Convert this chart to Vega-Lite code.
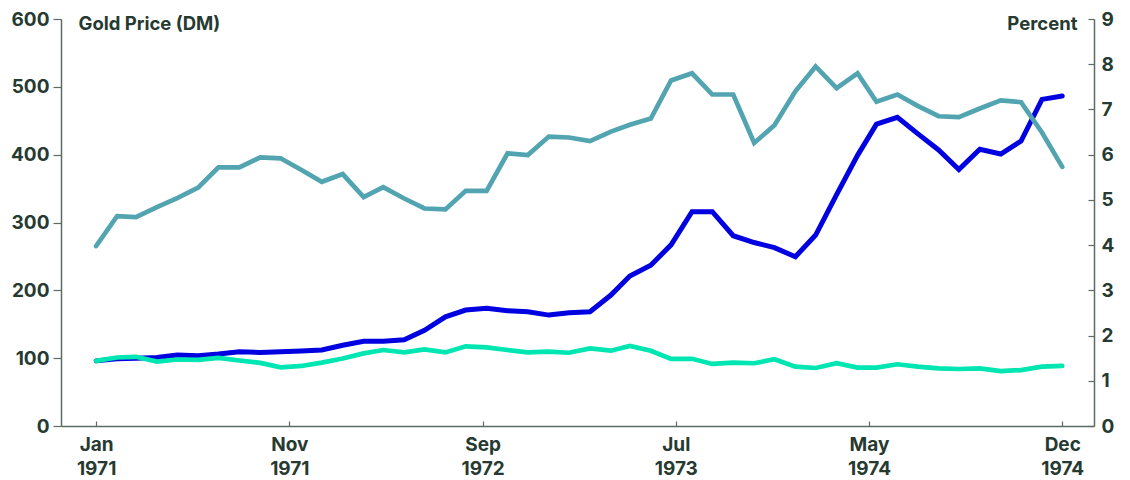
{
  "$schema": "https://vega.github.io/schema/vega-lite/v6.json",
  "width": 1033,
  "height": 407,
  "autosize": {"type": "none"},
  "padding": {"left": 61, "top": 19, "right": 36, "bottom": 54},
  "background": "white",
  "config": {
    "view": {"stroke": null},
    "font": "Inter",
    "axis": {
      "labelFont": "Inter",
      "labelFontWeight": 700,
      "labelFontSize": 19,
      "labelColor": "#263a31",
      "titleFont": "Inter",
      "titleFontWeight": 700,
      "titleFontSize": 18.5,
      "titleColor": "#263a31",
      "domainColor": "#5e6b65",
      "domainWidth": 1.5,
      "tickColor": "#5e6b65",
      "tickWidth": 1.2,
      "grid": false
    }
  },
  "data": {
    "values": [
      {"date": "1971-01-01", "gold": 96, "percent": 3.98, "other": 96},
      {"date": "1971-02-01", "gold": 99, "percent": 4.64, "other": 101},
      {"date": "1971-03-01", "gold": 100, "percent": 4.62, "other": 102},
      {"date": "1971-04-01", "gold": 101, "percent": 4.84, "other": 95},
      {"date": "1971-05-01", "gold": 104.5, "percent": 5.04, "other": 98},
      {"date": "1971-06-01", "gold": 103.5, "percent": 5.27, "other": 97.5},
      {"date": "1971-07-01", "gold": 106, "percent": 5.72, "other": 100.5},
      {"date": "1971-08-01", "gold": 109.5, "percent": 5.72, "other": 96.5},
      {"date": "1971-09-01", "gold": 108.5, "percent": 5.94, "other": 93},
      {"date": "1971-10-01", "gold": 109.5, "percent": 5.92, "other": 86.5},
      {"date": "1971-11-01", "gold": 110.5, "percent": 5.66, "other": 88.5},
      {"date": "1971-12-01", "gold": 112, "percent": 5.40, "other": 93.5},
      {"date": "1972-01-01", "gold": 119, "percent": 5.57, "other": 99.5},
      {"date": "1972-02-01", "gold": 125, "percent": 5.06, "other": 107},
      {"date": "1972-03-01", "gold": 125, "percent": 5.28, "other": 112},
      {"date": "1972-04-01", "gold": 127, "percent": 5.03, "other": 108.5},
      {"date": "1972-05-01", "gold": 141, "percent": 4.81, "other": 113},
      {"date": "1972-06-01", "gold": 161, "percent": 4.79, "other": 108.5},
      {"date": "1972-07-01", "gold": 171, "percent": 5.20, "other": 117.5},
      {"date": "1972-08-01", "gold": 173.5, "percent": 5.20, "other": 116},
      {"date": "1972-09-01", "gold": 170, "percent": 6.03, "other": 112},
      {"date": "1972-10-01", "gold": 168.5, "percent": 5.99, "other": 108.5},
      {"date": "1972-11-01", "gold": 163.5, "percent": 6.40, "other": 109.5},
      {"date": "1972-12-01", "gold": 167, "percent": 6.38, "other": 108},
      {"date": "1973-01-01", "gold": 168.5, "percent": 6.30, "other": 114.5},
      {"date": "1973-02-01", "gold": 193, "percent": 6.51, "other": 111},
      {"date": "1973-03-01", "gold": 221, "percent": 6.66, "other": 118},
      {"date": "1973-04-01", "gold": 237, "percent": 6.80, "other": 111},
      {"date": "1973-05-01", "gold": 267, "percent": 7.64, "other": 99},
      {"date": "1973-06-01", "gold": 316, "percent": 7.80, "other": 99},
      {"date": "1973-07-01", "gold": 316, "percent": 7.33, "other": 91.5},
      {"date": "1973-08-01", "gold": 280.5, "percent": 7.33, "other": 93.5},
      {"date": "1973-09-01", "gold": 270.5, "percent": 6.26, "other": 92.5},
      {"date": "1973-10-01", "gold": 263, "percent": 6.65, "other": 98.5},
      {"date": "1973-11-01", "gold": 249.5, "percent": 7.40, "other": 87.5},
      {"date": "1973-12-01", "gold": 281.5, "percent": 7.95, "other": 85.5},
      {"date": "1974-01-01", "gold": 341, "percent": 7.47, "other": 92.5},
      {"date": "1974-02-01", "gold": 399, "percent": 7.80, "other": 86},
      {"date": "1974-03-01", "gold": 445, "percent": 7.17, "other": 86},
      {"date": "1974-04-01", "gold": 455, "percent": 7.33, "other": 91},
      {"date": "1974-05-01", "gold": 431, "percent": 7.08, "other": 87.5},
      {"date": "1974-06-01", "gold": 407, "percent": 6.85, "other": 85},
      {"date": "1974-07-01", "gold": 378, "percent": 6.83, "other": 84},
      {"date": "1974-08-01", "gold": 408, "percent": 7.02, "other": 85},
      {"date": "1974-09-01", "gold": 401, "percent": 7.20, "other": 81},
      {"date": "1974-10-01", "gold": 420, "percent": 7.16, "other": 82.5},
      {"date": "1974-11-01", "gold": 481.5, "percent": 6.49, "other": 87.5},
      {"date": "1974-12-01", "gold": 486.5, "percent": 5.73, "other": 88.5}
    ]
  },
  "encoding": {
    "x": {
      "field": "date",
      "type": "temporal",
      "scale": {"type": "utc", "domain": [27043200000, 159148800000]},
      "axis": {
        "values": [31536000000, 56246400000, 80956800000, 105667200000, 130377600000, 155088000000],
        "labelExpr": "[['Jan','1971'],['Nov','1971'],['Sep','1972'],['Jul','1973'],['May','1974'],['Dec','1974']][round(datum.index*5)]",
        "labelLineHeight": 24,
        "labelPadding": 14,
        "labelAlign": "center",
        "labelBaseline": "top",
        "tickSize": -5,
        "title": null
      }
    }
  },
  "layer": [
    {
      "mark": {"type": "line", "color": "#0000e0", "strokeWidth": 5, "strokeCap": "round"},
      "encoding": {
        "y": {
          "field": "gold",
          "type": "quantitative",
          "scale": {"domain": [0, 600], "nice": false, "zero": true},
          "axis": {
            "orient": "left",
            "values": [0, 100, 200, 300, 400, 500, 600],
            "tickSize": 8,
            "labelPadding": 4,
            "title": "Gold Price (DM)",
            "titleAngle": 0,
            "titleAlign": "left",
            "titleBaseline": "middle",
            "titleX": 17,
            "titleY": 4
          }
        }
      }
    },
    {
      "mark": {"type": "line", "color": "#00e6b2", "strokeWidth": 4.7, "strokeCap": "round"},
      "encoding": {
        "y": {
          "field": "other",
          "type": "quantitative",
          "scale": {"domain": [0, 600], "nice": false, "zero": true},
          "axis": null
        }
      }
    },
    {
      "mark": {"type": "line", "color": "#52a4b1", "strokeWidth": 4.7, "strokeCap": "round"},
      "encoding": {
        "y": {
          "field": "percent",
          "type": "quantitative",
          "scale": {"domain": [0, 9], "nice": false, "zero": true},
          "axis": {
            "orient": "right",
            "values": [0, 1, 2, 3, 4, 5, 6, 7, 8, 9],
            "tickSize": -6,
            "labelPadding": 13,
            "title": "Percent",
            "titleAngle": 0,
            "titleAlign": "right",
            "titleBaseline": "middle",
            "titleX": -17,
            "titleY": 4
          }
        }
      }
    }
  ],
  "resolve": {"scale": {"y": "independent"}}
}
